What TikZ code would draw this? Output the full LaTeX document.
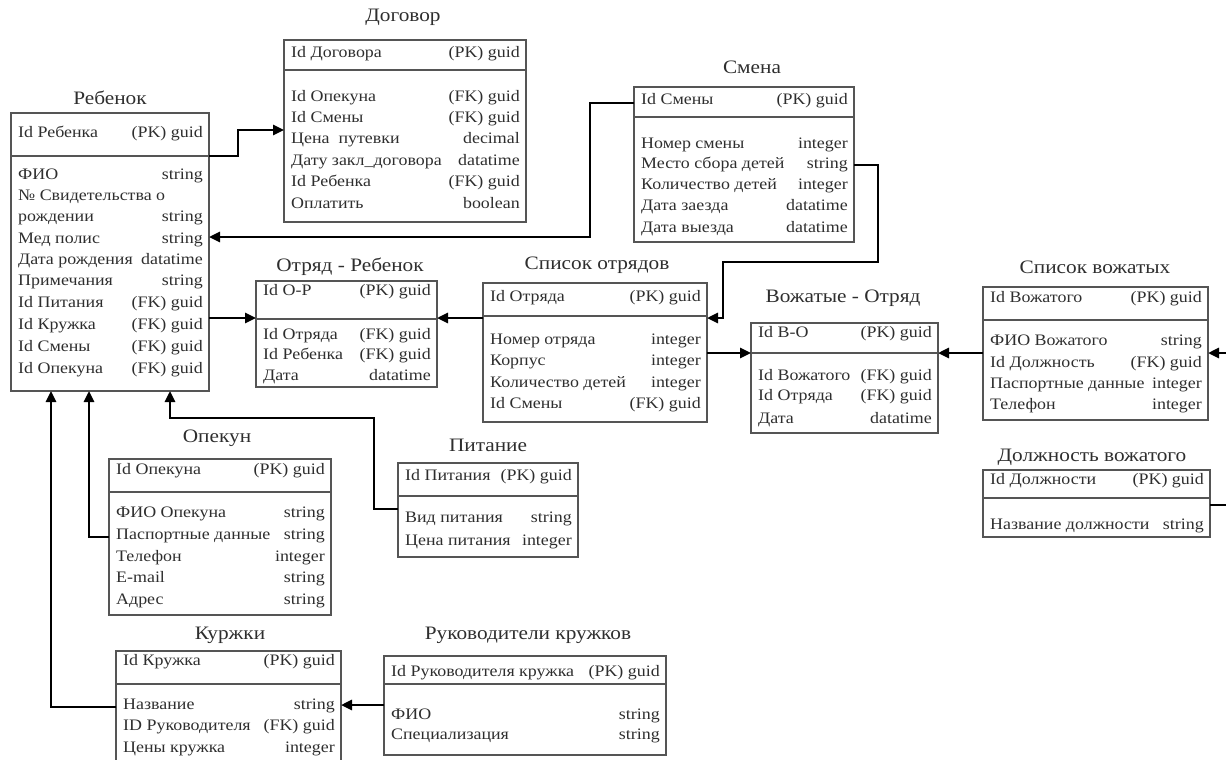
\documentclass[tikz,border=0pt]{standalone}
\usepackage{fontspec}
\setmainfont{Liberation Serif}[FakeStretch=1.12]
\usetikzlibrary{arrows.meta}
\definecolor{txt}{HTML}{2E2E2E}
\definecolor{bord}{HTML}{555555}
\newcommand\ertable[7]{% name, x1, y1, x2, y2, ysep, rows
  \node[tbl, minimum width={#4-#2}, minimum height={#5-#3}, anchor=north west] (#1) at (#2,#3) {};
  \draw[sepl] (#1.west |- 0,#6) -- (#1.east |- 0,#6);
  \foreach \yy/\ll/\rr in {#7} {%
    \node[cl, anchor=mid west] at (#2+7,\yy) {\ll};
    \node[cl, anchor=mid east] at (#4-6,\yy) {\rr};}
}
\begin{document}
\begin{tikzpicture}[x=1pt,y=-1pt,
  tbl/.style={draw=bord, line width=1.3pt, inner sep=0pt, outer sep=0pt},
  sepl/.style={draw=bord, line width=1.3pt},
  cl/.style={inner sep=0pt, font=\fontsize{16}{18}\selectfont, text=txt},
  ttl/.style={inner sep=0pt, font=\fontsize{19}{21}\selectfont, text=txt},
  conn/.style={line width=2.6pt, draw=black, -{Triangle[length=11pt,width=10pt]}},
  plain/.style={line width=2.6pt, draw=black}]
\useasboundingbox (0,0) rectangle (1226,760);

% ---- tables ----
\ertable{reb}{11}{113}{209}{391}{156}{135/Id Ребенка/(PK) guid, 177/ФИО/string, 198/№ Свидетельства о/, 219/рождении/string, 241/Мед полис/string, 262/Дата рождения/datatime, 283/Примечания/string, 305/Id Питания/(FK) guid, 327/Id Кружка/(FK) guid, 349/Id Смены/(FK) guid, 371/Id Опекуна/(FK) guid}
\node[ttl] (reb-t) at (110,98) {Ребенок};

\ertable{dog}{284}{40}{526}{222}{70}{55/Id Договора/(PK) guid, 99/Id Опекуна/(FK) guid, 120/Id Смены/(FK) guid, 141/Цена\ \ путевки/decimal, 163/Дату закл\_договора/datatime, 184/Id Ребенка/(FK) guid, 206/Оплатить/boolean}
\node[ttl] (dog-t) at (403,17) {Договор};

\ertable{sm}{634}{87}{854}{242}{117}{102/Id Смены/(PK) guid, 146/Номер смены/integer, 166/Место сбора детей/string, 187/Количество детей/integer, 208/Дата заезда/datatime, 230/Дата выезда/datatime}
\node[ttl] (sm-t) at (752,67) {Смена};

\ertable{orr}{256}{281}{437}{387}{319}{293/Id О-Р/(PK) guid, 337/Id Отряда/(FK) guid, 357/Id Ребенка/(FK) guid, 378/Дата/datatime}
\node[ttl] (orr-t) at (350,267) {Отряд - Ребенок};

\ertable{so}{483}{283}{707}{422}{316}{299/Id Отряда/(PK) guid, 342/Номер отряда/integer, 363/Корпус/integer, 385/Количество детей/integer, 406/Id Смены/(FK) guid}
\node[ttl] (so-t) at (597,265) {Список отрядов};

\ertable{vo}{751}{323}{938}{433}{353}{335/Id В-О/(PK) guid, 378/Id Вожатого/(FK) guid, 398/Id Отряда/(FK) guid, 421/Дата/datatime}
\node[ttl] (vo-t) at (843,298) {Вожатые - Отряд};

\ertable{sv}{983}{287}{1208}{420}{320}{300/Id Вожатого/(PK) guid, 343/ФИО Вожатого/string, 365/Id Должность/(FK) guid, 386/Паспортные данные/integer, 407/Телефон/integer}
\node[ttl] (sv-t) at (1095,267) {Список вожатых};

\ertable{dv}{983}{470}{1210}{537}{498}{482/Id Должности/(PK) guid, 527/Название должности/string}
\node[ttl] (dv-t) at (1092,457) {Должность вожатого};

\ertable{op}{109}{459}{331}{615}{492}{472/Id Опекуна/(PK) guid, 515/ФИО Опекуна/string, 537/Паспортные данные/string, 559/Телефон/integer, 580/E-mail/string, 602/Адрес/string}
\node[ttl] (op-t) at (217,438) {Опекун};

\ertable{pit}{398}{463}{578}{557}{496}{478/Id Питания/(PK) guid, 520/Вид питания/string, 543/Цена питания/integer}
\node[ttl] (pit-t) at (488,445) {Питание};

\ertable{kr}{116}{651}{341}{766}{684}{663/Id Кружка/(PK) guid, 707/Название/string, 728/ID Руководителя/(FK) guid, 750/Цены кружка/integer}
\node[ttl] (kr-t) at (230,635) {Куржки};

\ertable{ruk}{384}{656}{666}{755}{684}{674/Id Руководителя кружка/(PK) guid, 717/ФИО/string, 737/Специализация/string}
\node[ttl] (ruk-t) at (528,635) {Руководители кружков};

% ---- connectors ----
\draw[conn] (reb.east |- 0,156) -- (238,156) -- (238,130) -- (dog.west |- 0,130);
\draw[conn] (sm.west |- 0,103) -- (590,103) -- (590,237) -- (reb.east |- 0,237);
\draw[conn] (reb.east |- 0,318) -- (orr.west |- 0,318);
\draw[conn] (so.west |- 0,318) -- (orr.east |- 0,318);
\draw[conn] (sm.east |- 0,165) -- (878,165) -- (878,262) -- (723,262) -- (723,318) -- (so.east |- 0,318);
\draw[conn] (so.east |- 0,353) -- (vo.west |- 0,353);
\draw[conn] (sv.west |- 0,353) -- (vo.east |- 0,353);
\draw[conn] (dv.east |- 0,505) -- (1232,505) -- (1232,353) -- (sv.east |- 0,353);
\draw[conn] (op.west |- 0,537) -- (89,537) -- (89,0 |- reb.south);
\draw[conn] (pit.west |- 0,509) -- (374,509) -- (374,418) -- (170,418) -- (170,0 |- reb.south);
\draw[conn] (kr.west |- 0,707) -- (51,707) -- (51,0 |- reb.south);
\draw[conn] (ruk.west |- 0,705) -- (kr.east |- 0,705);
\end{tikzpicture}
\end{document}
